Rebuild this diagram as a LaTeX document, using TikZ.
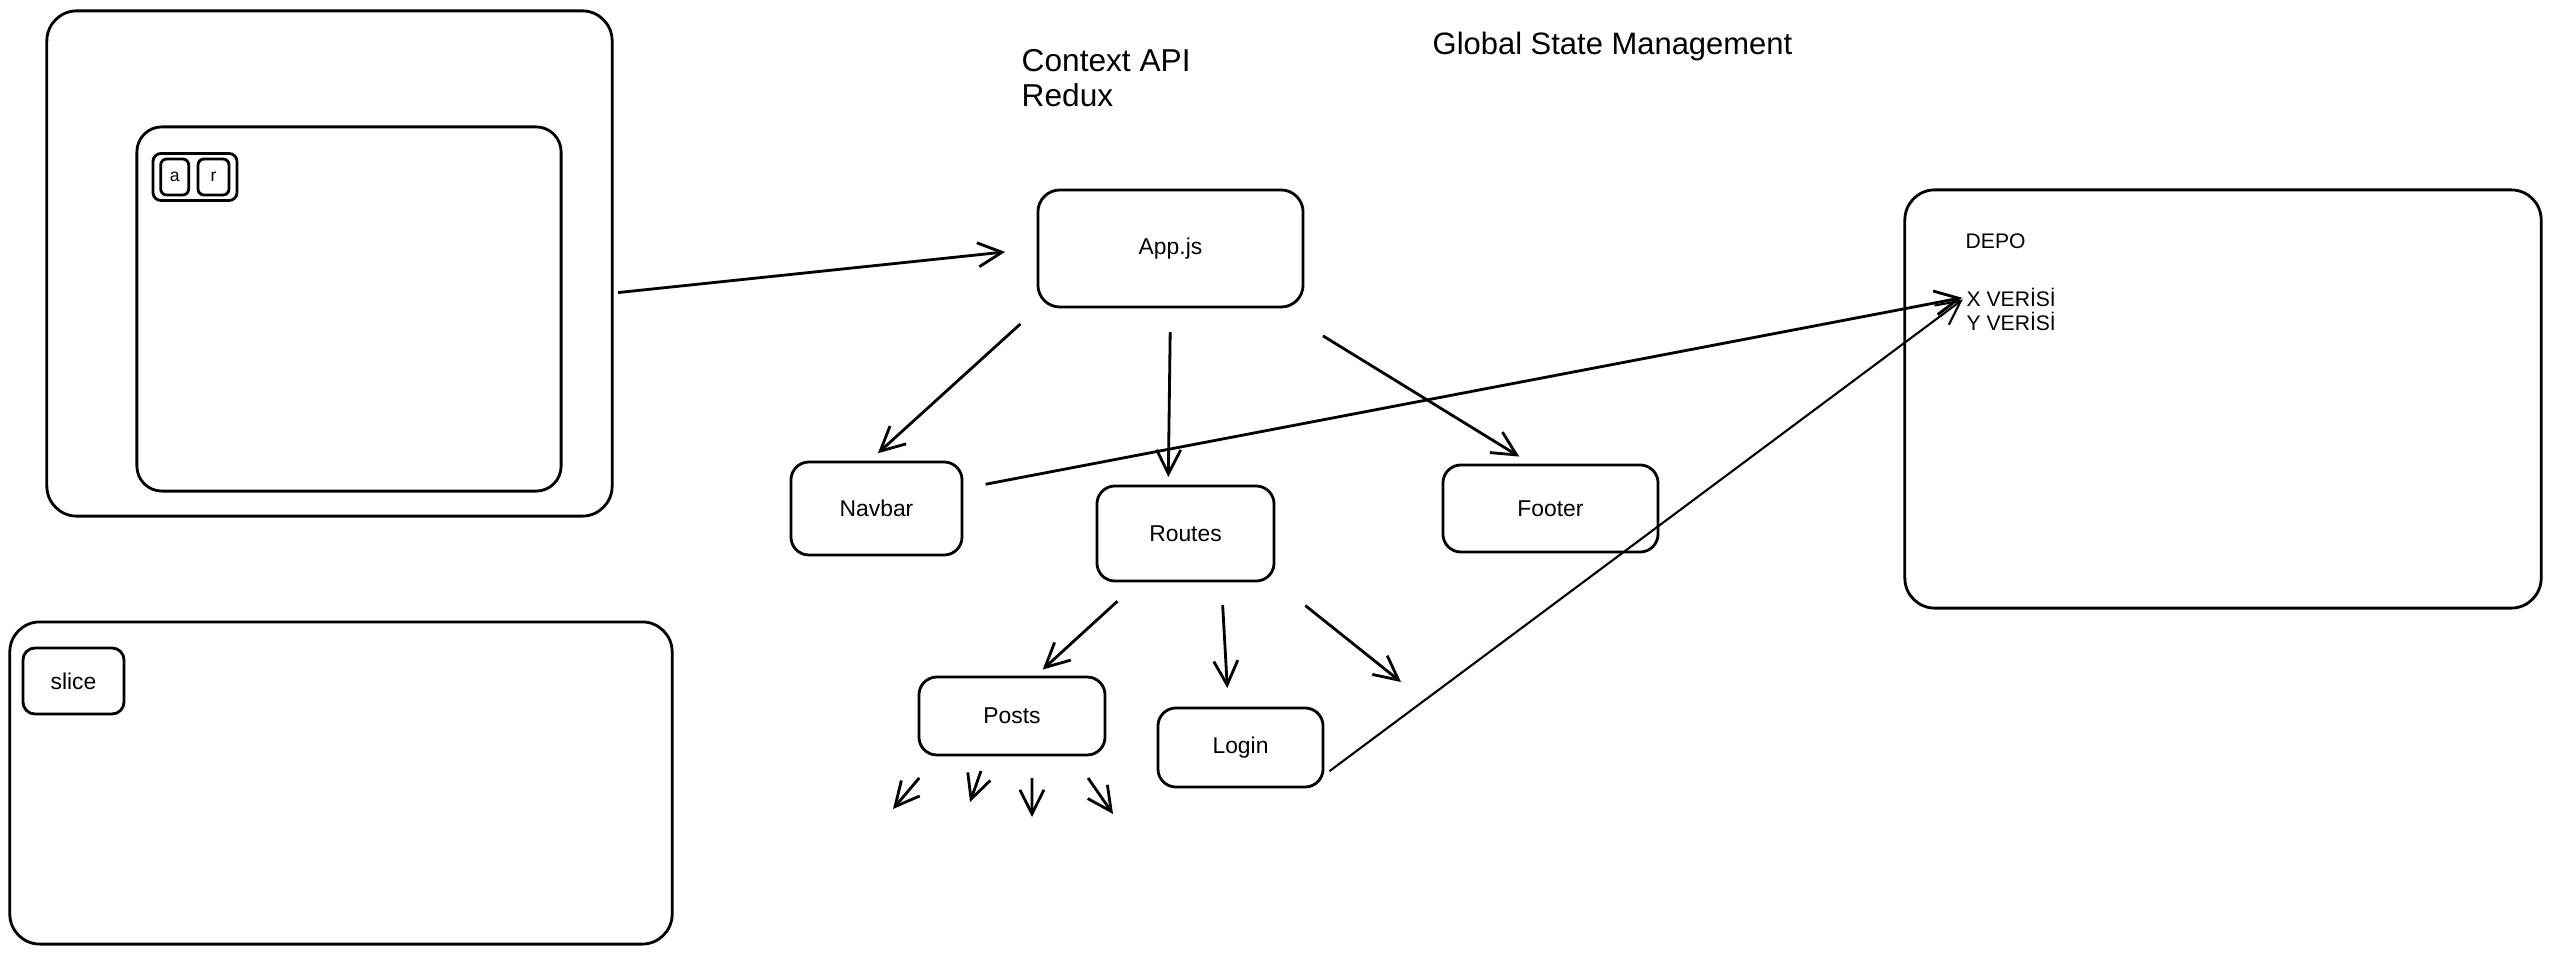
\documentclass[tikz,border=0pt]{standalone}
\usepackage{fontspec}
\setmainfont{Liberation Sans}
\usetikzlibrary{arrows.meta}
\begin{document}
\begin{tikzpicture}[x=0.01cm, y=-0.01cm,
                box/.style={draw, line width=0.8pt, rounded corners=0.18cm, inner sep=0pt, outer sep=0pt, font=\fontsize{6.5}{8}\selectfont},
                big/.style={box, rounded corners=0.3cm},
                arr/.style={line width=0.8pt, -{Straight Barb[length=2.4mm, width=2.4mm]}},
                txt/.style={inner sep=0pt, anchor=west, align=left}]
                \useasboundingbox (0, 0) rectangle (2551, 955);
                \node [big, minimum width=5.65cm, minimum height=5.05cm] (0) at (329.5, 263.5) {};
                \node [big, rounded corners=0.25cm, minimum width=4.24cm, minimum height=3.64cm] (1) at (349, 309) {};
                \node [box, rounded corners=0.08cm, minimum width=0.84cm, minimum height=0.47cm] (2) at (195, 177) {};
                \node [box, rounded corners=0.06cm, minimum width=0.28cm, minimum height=0.36cm, font=\fontsize{5}{6}\selectfont] (3) at (174.7, 177) {a};
                \node [box, rounded corners=0.06cm, minimum width=0.31cm, minimum height=0.36cm, font=\fontsize{5}{6}\selectfont] (4) at (213.5, 177) {r};
                \node [big, minimum width=6.62cm, minimum height=3.22cm] (5) at (341, 783) {};
                \node [box, rounded corners=0.12cm, minimum width=1.01cm, minimum height=0.66cm] (6) at (73.5, 681) {slice};
                \node [txt, font=\fontsize{9}{9.8}\selectfont] (7) at (1021, 78) {Context API\\Redux};
                \node [txt, font=\fontsize{8.8}{10}\selectfont] (8) at (1432, 47) {Global State Management};
                \node [box, rounded corners=0.22cm, minimum width=2.65cm, minimum height=1.17cm] (9) at (1170.5, 248.5) {App.js};
                \node [box, minimum width=1.71cm, minimum height=0.93cm] (10) at (876.5, 508.5) {Navbar};
                \node [box, minimum width=1.77cm, minimum height=0.95cm] (11) at (1185.5, 533.5) {Routes};
                \node [box, minimum width=2.15cm, minimum height=0.87cm] (12) at (1550.5, 508.5) {Footer};
                \node [box, minimum width=1.86cm, minimum height=0.78cm] (13) at (1012, 716) {Posts};
                \node [box, minimum width=1.65cm, minimum height=0.79cm] (14) at (1240.5, 747.5) {Login};
                \node [big, minimum width=6.36cm, minimum height=4.18cm] (15) at (2223, 399) {};
                \node [txt, font=\fontsize{6}{7}\selectfont] (16) at (1965, 241) {DEPO};
                \node [txt, font=\fontsize{6}{7}\selectfont] (17) at (1966, 297) {X VERİSİ};
                \node [txt, font=\fontsize{6}{7}\selectfont] (18) at (1966, 321) {Y VERİSİ};
                \coordinate (19) at (1401, 682);
                \coordinate (20) at (893, 809);
                \coordinate (21) at (970, 802);
                \coordinate (22) at (1032, 817);
                \coordinate (23) at (1113, 814);
                \draw [arr, shorten <=0.06cm, shorten >=0.33cm] (0.-6) -- (9.west);
                \draw [arr, shorten <=0.25cm, shorten >=0.13cm] (9.204) -- (10.100);
                \draw [arr, shorten <=0.25cm, shorten >=0.09cm] (9.south) -- (11.110);
                \draw [arr, shorten <=0.55cm, shorten >=0.16cm] (9.-29) -- (12.112);
                \draw [arr, shorten <=0.24cm, shorten >=0.04cm] (10.13) -- (17.west);
                \draw [arr, line width=0.6pt, shorten <=0.08cm, shorten >=0.04cm] (14.-19) -- (17.west);
                \draw [arr, shorten <=0.3cm, shorten >=0.11cm] (11.226) -- (13.60);
                \draw [arr, shorten <=0.24cm, shorten >=0.2cm] (11.307) -- (14.107);
                \draw [arr, shorten <=0.4cm] (11.-28) -- (19);
                \foreach \a/\n/\s in {208/20/0.3, 237/21/0.17, 297/22/0.23, 327/23/0.28}
                    \draw [arr, shorten <=\s cm] (13.\a) -- (\n);
\end{tikzpicture}
\end{document}
